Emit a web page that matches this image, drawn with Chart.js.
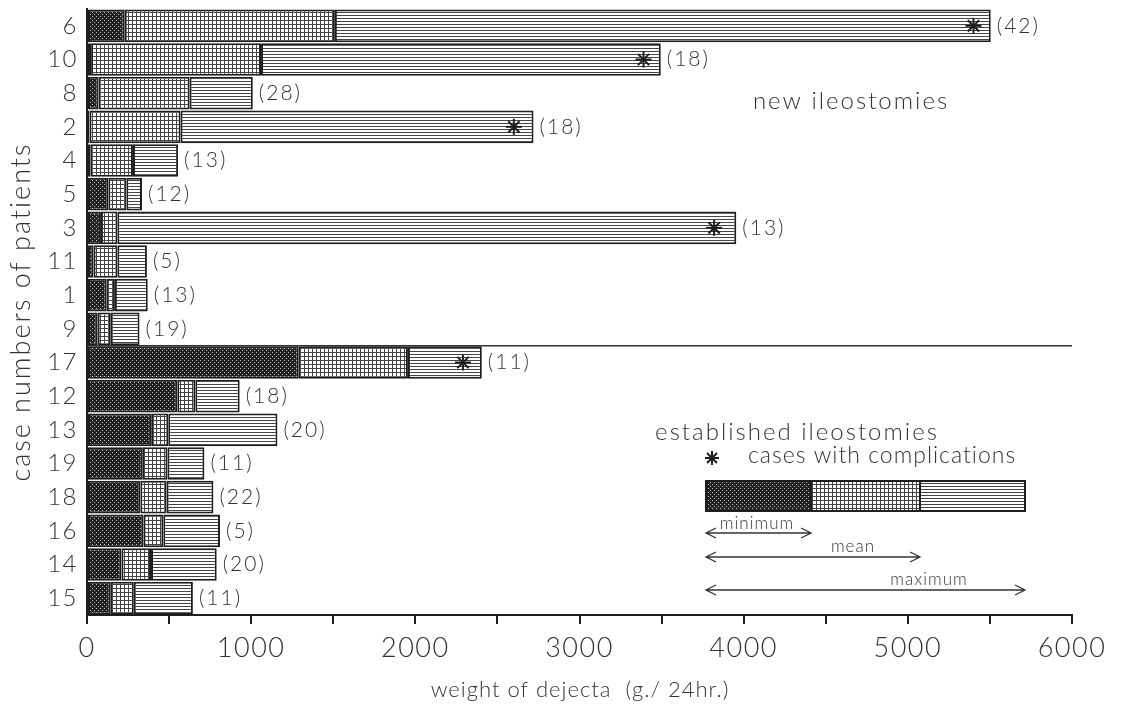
<!DOCTYPE html>
<html lang="en">
<head>
<meta charset="UTF-8">
<title>Weight of dejecta - ileostomy patients</title>
<script src="https://cdn.jsdelivr.net/npm/chart.js@4.4.1/dist/chart.umd.min.js"></script>
<style>
  html, body { margin: 0; padding: 0; background: #fff; }
  .wrap { width: 1125px; height: 705px; position: relative; }
</style>
</head>
<body>
<div class="wrap"><canvas id="chart"></canvas></div>
<script>
// case numbers, top to bottom (new ileostomies, then established ones)
const cases = ['6', '10', '8', '2', '4', '5', '3', '11', '1', '9', '17', '12', '13', '19', '18', '16', '14', '15'];
const minWeight  = [230, 25, 70, 15, 20, 130, 85, 40, 120, 65, 1290, 550, 395, 340, 325, 345, 210, 145];
const meanWeight = [1510, 1060, 625, 570, 280, 240, 185, 185, 170, 145, 1955, 660, 495, 490, 485, 465, 390, 285];
const maxWeight  = [5505, 3495, 1010, 2720, 555, 335, 3955, 365, 370, 320, 2405, 930, 1160, 715, 770, 810, 790, 645];
// number of days in brackets
const nDays = [42, 18, 28, 18, 13, 12, 13, 5, 13, 19, 11, 18, 20, 11, 22, 5, 20, 11];
// where the asterisk sits (cases with complications)
const complication = [5400, 3390, null, 2600, null, null, 3820, null, null, null, 2290, null, null, null, null, null, null, null];
const xLabels = [0, 1000, 2000, 3000, 4000, 5000, 6000];

const FONT = 'Lato, "DejaVu Sans", sans-serif';
const INK = '#1e1e1e';
const TEXT = '#333';

// hatch patterns, drawn on tiny canvases
function makePattern(size, draw) {
    const c = document.createElement('canvas');
    c.width = size; c.height = size;
    draw(c.getContext('2d'), size);
    return document.getElementById('chart').getContext('2d').createPattern(c, 'repeat');
}
const minPattern = makePattern(4, (g, s) => {
    g.fillStyle = '#222'; g.fillRect(0, 0, s, s);
    g.fillStyle = '#bbb'; g.fillRect(0, 0, 1, 1); g.fillRect(2, 2, 1, 1);
});
const meanPattern = makePattern(4, (g, s) => {
    g.fillStyle = '#fff'; g.fillRect(0, 0, s, s);
    g.fillStyle = '#444'; g.fillRect(0, 0, s, 1); g.fillRect(0, 0, 1, s);
});
const maxPattern = makePattern(3, (g, s) => {
    g.fillStyle = '#fff'; g.fillRect(0, 0, s, s);
    g.fillStyle = '#444'; g.fillRect(0, 0, s, 1);
});

function asterisk(ctx, x, y, r) {
    ctx.save();
    ctx.strokeStyle = INK;
    ctx.lineWidth = 2;
    for (let a = 0; a < 4; a++) {
        const ang = a * Math.PI / 4;
        ctx.beginPath();
        ctx.moveTo(x - r * Math.cos(ang), y - r * Math.sin(ang));
        ctx.lineTo(x + r * Math.cos(ang), y + r * Math.sin(ang));
        ctx.stroke();
    }
    ctx.restore();
}

function arrow(ctx, x1, x2, y) {
    ctx.beginPath();
    ctx.moveTo(x1, y); ctx.lineTo(x2, y);
    ctx.moveTo(x1 + 10, y - 5); ctx.lineTo(x1, y); ctx.lineTo(x1 + 10, y + 5);
    ctx.moveTo(x2 - 10, y - 5); ctx.lineTo(x2, y); ctx.lineTo(x2 - 10, y + 5);
    ctx.stroke();
}

// a little letter spacing for the tick labels too
const spacing = {
    id: 'spacing',
    beforeDraw(chart) { chart.ctx.letterSpacing = '1.5px'; },
    afterDraw(chart) { chart.ctx.letterSpacing = '0px'; }
};

const notes = {
    id: 'notes',
    afterDatasetsDraw(chart) {
        const {ctx, scales: {x, y}} = chart;
        ctx.save();

        // line between new and established ileostomies
        const sepY = (y.getPixelForValue(9) + y.getPixelForValue(10)) / 2;
        ctx.strokeStyle = '#333';
        ctx.lineWidth = 1.5;
        ctx.beginPath();
        ctx.moveTo(x.getPixelForValue(0), sepY);
        ctx.lineTo(x.getPixelForValue(6000), sepY);
        ctx.stroke();

        // bracketed counts and asterisks
        ctx.letterSpacing = '2px';
        ctx.font = '300 21px ' + FONT;
        ctx.fillStyle = TEXT;
        ctx.textBaseline = 'middle';
        ctx.textAlign = 'left';
        cases.forEach((c, i) => {
            const py = y.getPixelForValue(i);
            ctx.fillText('(' + nDays[i] + ')', x.getPixelForValue(maxWeight[i]) + 6, py);
            if (complication[i] != null) asterisk(ctx, x.getPixelForValue(complication[i]), py, 8);
        });

        // group labels
        ctx.font = '300 24px ' + FONT;
        ctx.textAlign = 'center';
        ctx.fillText('new ileostomies', 851, 101);
        ctx.fillText('established ileostomies', 797, 432);

        // axis titles
        ctx.save();
        ctx.letterSpacing = '1px';
        ctx.font = '300 22px ' + FONT;
        ctx.fillText('weight of dejecta  (g./ 24hr.)', 580, 690);
        ctx.restore();
        ctx.save();
        ctx.translate(21, 312);
        ctx.rotate(-Math.PI / 2);
        ctx.font = '300 27px ' + FONT;
        ctx.fillText('case numbers of patients', 0, 0);
        ctx.restore();

        // key
        asterisk(ctx, 712, 458, 7);
        ctx.textAlign = 'left';
        ctx.letterSpacing = '1px';
        ctx.font = '300 23px ' + FONT;
        ctx.fillText('cases with complications', 748, 456);

        const kx = [706, 811, 920, 1025];
        const kTop = 481, kH = 30;
        [minPattern, meanPattern, maxPattern].forEach((p, k) => {
            ctx.fillStyle = p;
            ctx.fillRect(kx[k], kTop, kx[k + 1] - kx[k], kH);
            ctx.strokeStyle = INK;
            ctx.lineWidth = 2;
            ctx.strokeRect(kx[k], kTop, kx[k + 1] - kx[k], kH);
        });

        ctx.strokeStyle = '#333';
        ctx.lineWidth = 1.3;
        arrow(ctx, kx[0], kx[1], 533);
        arrow(ctx, kx[0], kx[2], 557);
        arrow(ctx, kx[0], kx[3], 590);

        ctx.fillStyle = TEXT;
        ctx.font = '300 17px ' + FONT;
        ctx.textAlign = 'center';
        ctx.textBaseline = 'alphabetic';
        ctx.fillText('minimum', 757, 529);
        ctx.fillText('mean', 853, 552);
        ctx.fillText('maximum', 929, 585);

        ctx.restore();
    }
};

const barStyle = {
    borderColor: INK,
    borderWidth: 2,
    borderSkipped: false,
    grouped: false,
    barPercentage: 0.97,
    categoryPercentage: 1
};

new Chart(document.getElementById('chart'), {
    type: 'bar',
    data: {
        labels: cases,
        datasets: [
            Object.assign({label: 'minimum', data: minWeight.map(v => [0, v]), backgroundColor: minPattern}, barStyle),
            Object.assign({label: 'mean', data: meanWeight.map((v, i) => [minWeight[i], v]), backgroundColor: meanPattern}, barStyle),
            Object.assign({label: 'maximum', data: maxWeight.map((v, i) => [meanWeight[i], v]), backgroundColor: maxPattern}, barStyle)
        ]
    },
    options: {
        indexAxis: 'y',
        responsive: true,
        maintainAspectRatio: false,
        animation: false,
        layout: {padding: {top: 9, right: 53, left: 0, bottom: 0}},
        plugins: {legend: {display: false}, tooltip: {enabled: false}},
        scales: {
            x: {
                min: 0,
                max: 6000,
                ticks: {
                    stepSize: 500,
                    autoSkip: false,
                    maxRotation: 0,
                    padding: 8,
                    color: TEXT,
                    font: {family: FONT, size: 27, weight: '300'},
                    callback: v => xLabels.includes(v) ? String(v) : ''
                },
                grid: {drawOnChartArea: false, drawTicks: true, tickLength: 9, color: INK, lineWidth: 2},
                border: {display: true, color: INK, width: 2},
                afterFit: s => { s.height = 90; s.paddingLeft = 0; s.paddingRight = 0; }
            },
            y: {
                ticks: {color: TEXT, font: {family: FONT, size: 24, weight: '300'}, padding: 9},
                grid: {display: false, drawTicks: false},
                border: {display: true, color: INK, width: 2},
                afterFit: s => { s.width = 87; s.paddingTop = 0; s.paddingBottom = 0; }
            }
        }
    },
    plugins: [spacing, notes]
});
</script>
</body>
</html>
